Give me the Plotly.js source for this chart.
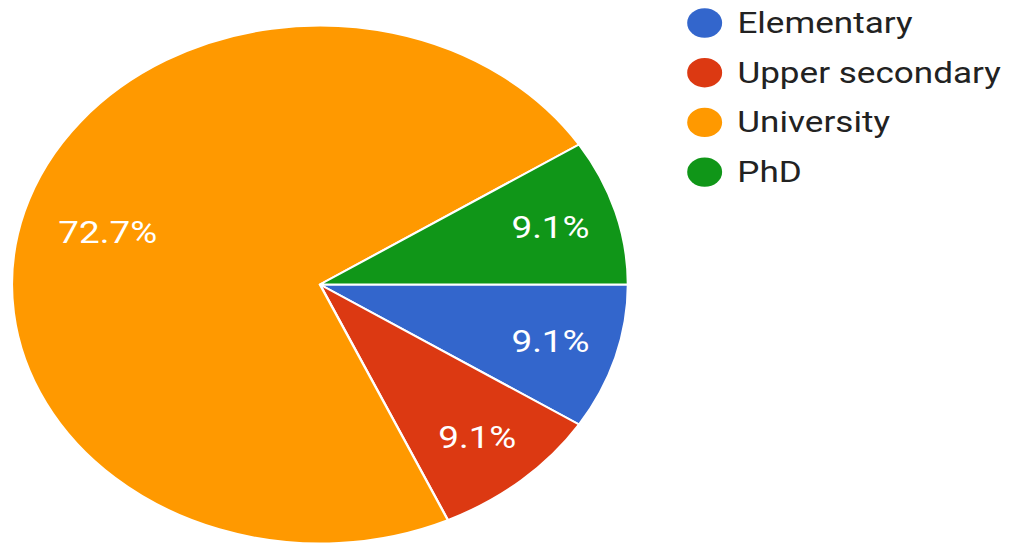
<!DOCTYPE html>
<html>
<head>
<meta charset="utf-8">
<script src="https://cdn.plot.ly/plotly-3.0.1.min.js"></script>
<style>
  html, body { margin: 0; padding: 0; background: #fff; overflow: hidden; }
  #wrap { width: 1018px; height: 544px; overflow: hidden; position: relative; }
  #chart { width: 856px; height: 544px; transform: scaleX(1.1893); transform-origin: 0 0; }
</style>
</head>
<body>
<div id="wrap"><div id="chart"></div></div>
<script>
const categories = ["Elementary", "Upper secondary", "University", "PhD"];
const counts = [1, 1, 8, 1];
const colors = ["#3366CC", "#DC3912", "#FF9900", "#109618"];

const W = 856, H = 544;
const FONT = "Roboto, 'Open Sans', Arial, sans-serif";

// pie geometry (unscaled px)
const pieX0 = 10, pieX1 = 528, pieTop = 25.5, pieBottom = 543.5;
const cx = (pieX0 + pieX1) / 2, cy = (pieTop + pieBottom) / 2, R = (pieBottom - pieTop) / 2;
const startDeg = 0; // slices start at 3 o'clock, clockwise
const total = counts.reduce((a, b) => a + b, 0);

// Custom circular-marker legend built from the category / colour arrays
const legX = 592.5, legR = 14.7, legTextX = 618, legY0 = 23, legStep = 49.7;
const shapes = [], annotations = [];
categories.forEach((c, i) => {
  const y = legY0 + i * legStep;
  shapes.push({
    type: "circle", xref: "paper", yref: "paper",
    x0: (legX - legR) / W, x1: (legX + legR) / W,
    y0: 1 - (y + legR) / H, y1: 1 - (y - legR) / H,
    fillcolor: colors[i], line: { width: 0 }
  });
  annotations.push({
    xref: "paper", yref: "paper", x: legTextX / W, y: 1 - y / H,
    xanchor: "left", yanchor: "middle", showarrow: false,
    text: c, font: { family: FONT, size: 29.5, color: "#222222" }
  });
});

// Large slices: label placed along the slice bisector at ~0.72 R (computed from the data)
const texts = [];
let cum = 0;
counts.forEach((v, i) => {
  const frac = v / total;
  const label = (frac * 100).toFixed(1) + "%";
  const mid = (startDeg + (cum + frac / 2) * 360) * Math.PI / 180; // clockwise from east
  cum += frac;
  if (frac > 0.5) {
    texts.push("");
    const px = cx + 0.718 * R * Math.cos(mid);
    const py = cy + 0.718 * R * Math.sin(mid);
    annotations.push({
      xref: "paper", yref: "paper", x: px / W, y: 1 - py / H,
      xanchor: "center", yanchor: "middle", showarrow: false,
      text: label, font: { family: FONT, size: 31, color: "#ffffff" }
    });
  } else {
    texts.push(label);
  }
});

const trace = {
  type: "pie",
  labels: categories,
  values: counts,
  text: texts,
  marker: { colors: colors, line: { color: "#ffffff", width: 2 } },
  sort: false,
  direction: "clockwise",
  rotation: 90,
  textinfo: "text",
  texttemplate: "%{text}",
  textposition: "inside",
  insidetextorientation: "horizontal",
  textfont: { family: FONT, size: 31, color: "#ffffff" },
  hoverinfo: "label+percent",
  domain: { x: [pieX0 / W, pieX1 / W], y: [(H - pieBottom) / H, (H - pieTop) / H] },
  showlegend: false
};

const layout = {
  width: W, height: H,
  margin: { l: 0, r: 0, t: 0, b: 0, pad: 0 },
  paper_bgcolor: "#ffffff",
  showlegend: false,
  shapes: shapes,
  annotations: annotations,
  font: { family: FONT }
};

Plotly.newPlot("chart", [trace], layout, { displayModeBar: false, staticPlot: true });
</script>
</body>
</html>
